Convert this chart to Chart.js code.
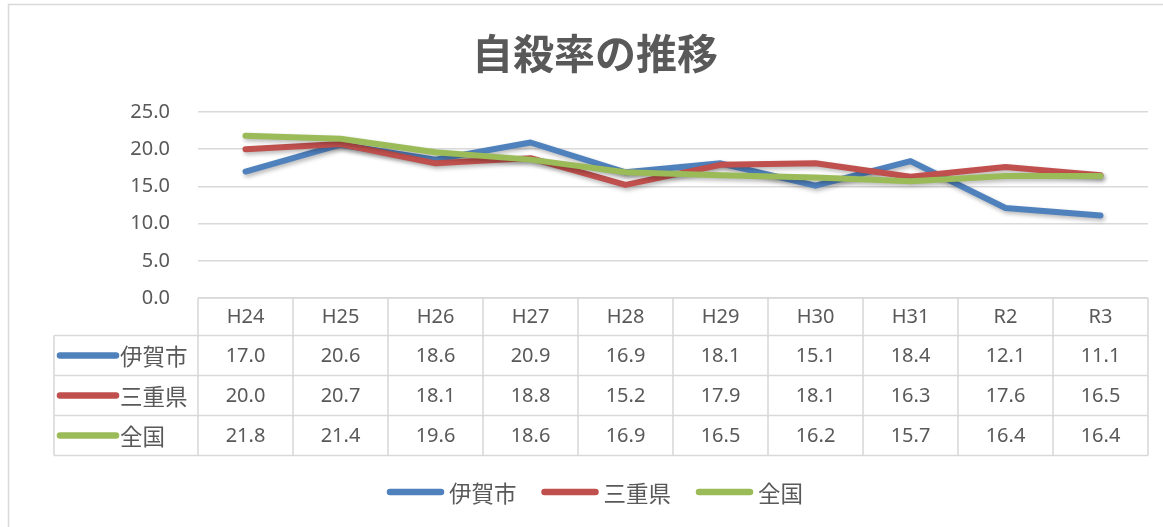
<!DOCTYPE html>
<html lang="ja">
<head>
<meta charset="utf-8">
<title>自殺率の推移</title>
<script src="https://cdn.jsdelivr.net/npm/chart.js@4.4.1/dist/chart.umd.min.js"></script>
<style>
  html, body { margin: 0; padding: 0; background: #ffffff; }
  #wrap { width: 1163px; height: 527px; position: relative; }
</style>
</head>
<body>
<div id="wrap"><canvas id="chart" width="1163" height="527"></canvas></div>
<script>
// Suicide rate (per 100,000) by fiscal year
const chartTitle = '自殺率の推移';
const categories = ['H24', 'H25', 'H26', 'H27', 'H28', 'H29', 'H30', 'H31', 'R2', 'R3'];
const seriesNames = ['伊賀市', '三重県', '全国'];
const igaValues = [17.0, 20.6, 18.6, 20.9, 16.9, 18.1, 15.1, 18.4, 12.1, 11.1];
const mieValues = [20.0, 20.7, 18.1, 18.8, 15.2, 17.9, 18.1, 16.3, 17.6, 16.5];
const zenkokuValues = [21.8, 21.4, 19.6, 18.6, 16.9, 16.5, 16.2, 15.7, 16.4, 16.4];
const yMin = 0;
const yMax = 25;
const yStep = 5;

const seriesColors = ['#4F81BD', '#C0504D', '#9BBB59'];
const textColor = '#595959';
const gridColor = '#D9D9D9';
const latinFont = '"Noto Sans", "Noto Sans CJK JP", sans-serif';
const cjkFont = '"Noto Sans CJK JP", "Noto Sans", sans-serif';

// Soft drop shadow under each series line
const lineShadow = {
  id: 'lineShadow',
  beforeDatasetDraw(chart) {
    const ctx = chart.ctx;
    ctx.save();
    ctx.shadowColor = 'rgba(0, 0, 0, 0.28)';
    ctx.shadowBlur = 4;
    ctx.shadowOffsetX = 1.5;
    ctx.shadowOffsetY = 2.5;
  },
  afterDatasetDraw(chart) {
    chart.ctx.restore();
  }
};

function drawKeyLine(ctx, x1, x2, y, color) {
  ctx.save();
  ctx.strokeStyle = color;
  ctx.lineWidth = 6.5;
  ctx.lineCap = 'round';
  ctx.beginPath();
  ctx.moveTo(x1, y);
  ctx.lineTo(x2, y);
  ctx.stroke();
  ctx.restore();
}

// Frame, title, data table under the plot and the bottom legend
const decorations = {
  id: 'decorations',
  beforeDraw(chart) {
    const ctx = chart.ctx;
    ctx.save();
    ctx.fillStyle = '#ffffff';
    ctx.fillRect(0, 0, chart.width, chart.height);
    ctx.strokeStyle = gridColor;
    ctx.lineWidth = 1.5;
    ctx.beginPath();
    ctx.moveTo(8.5, chart.height);
    ctx.lineTo(8.5, 4.5);
    ctx.lineTo(chart.width, 4.5);
    ctx.stroke();
    ctx.restore();
  },
  afterDraw(chart) {
    const ctx = chart.ctx;
    const area = chart.chartArea;
    const xs = chart.scales.x;
    const centerX = 595;

    // Title
    ctx.save();
    ctx.fillStyle = textColor;
    ctx.font = 'bold 41px ' + cjkFont;
    ctx.textAlign = 'center';
    ctx.textBaseline = 'middle';
    ctx.fillText(chartTitle, centerX, 53);
    ctx.restore();

    // Data table
    const n = categories.length;
    const colW = (area.right - area.left) / n;
    const headTop = area.bottom;
    const headH = 37.5;
    const rowH = 40;
    const keyLeft = 54;
    const rowsTop = headTop + headH;
    const tableBottom = rowsTop + rowH * seriesNames.length;
    const data = chart.data.datasets;

    ctx.save();
    ctx.strokeStyle = gridColor;
    ctx.lineWidth = 1.6;
    ctx.beginPath();
    // horizontal lines
    ctx.moveTo(area.left, headTop); ctx.lineTo(area.right, headTop);
    for (let r = 0; r <= seriesNames.length; r++) {
      const y = rowsTop + r * rowH;
      ctx.moveTo(keyLeft, y); ctx.lineTo(area.right, y);
    }
    // vertical lines
    ctx.moveTo(keyLeft, rowsTop); ctx.lineTo(keyLeft, tableBottom);
    for (let c = 0; c <= n; c++) {
      const x = (c < n ? xs.getPixelForValue(c) - colW / 2 : xs.getPixelForValue(n - 1) + colW / 2);
      ctx.moveTo(x, headTop); ctx.lineTo(x, tableBottom);
    }
    ctx.stroke();

    ctx.fillStyle = textColor;
    ctx.textAlign = 'center';
    ctx.textBaseline = 'middle';
    ctx.font = '20px ' + latinFont;
    categories.forEach((cat, i) => {
      ctx.fillText(cat, xs.getPixelForValue(i), headTop + headH / 2 + 1);
    });
    data.forEach((ds, r) => {
      const cy = rowsTop + r * rowH + rowH / 2 + 1;
      ds.data.forEach((v, i) => {
        ctx.font = '20px ' + latinFont;
        ctx.textAlign = 'center';
        ctx.fillText(v.toFixed(1), xs.getPixelForValue(i), cy);
      });
      drawKeyLine(ctx, 60, 116, cy - 1, ds.borderColor);
      ctx.font = '22.5px ' + cjkFont;
      ctx.textAlign = 'left';
      ctx.fillText(ds.label, 120, cy);
    });
    ctx.restore();

    // Bottom legend
    ctx.save();
    ctx.font = '22.5px ' + cjkFont;
    ctx.textBaseline = 'middle';
    ctx.textAlign = 'left';
    const keyLen = 57;
    const keyGap = 5;
    const itemGap = 25;
    const widths = data.map(ds => keyLen + keyGap + ctx.measureText(ds.label).width);
    const total = widths.reduce((a, b) => a + b, 0) + itemGap * (widths.length - 1);
    let x = centerX - total / 2;
    const ly = 492;
    data.forEach((ds, i) => {
      drawKeyLine(ctx, x + 3, x + keyLen - 3, ly, ds.borderColor);
      ctx.fillStyle = textColor;
      ctx.fillText(ds.label, x + keyLen + keyGap, ly + 1);
      x += widths[i] + itemGap;
    });
    ctx.restore();
  }
};

const seriesValues = [igaValues, mieValues, zenkokuValues];

new Chart(document.getElementById('chart'), {
  type: 'line',
  data: {
    labels: categories,
    datasets: seriesNames.map((name, i) => ({
      label: name,
      data: seriesValues[i],
      borderColor: seriesColors[i],
      backgroundColor: seriesColors[i],
      borderWidth: 6,
      borderCapStyle: 'round',
      borderJoinStyle: 'round',
      pointRadius: 0,
      pointHoverRadius: 0,
      tension: 0,
      fill: false,
      order: seriesNames.length - i
    }))
  },
  options: {
    responsive: false,
    animation: false,
    events: [],
    layout: { padding: { left: 8, right: 15, top: 112, bottom: 229 } },
    plugins: {
      legend: { display: false },
      title: { display: false },
      tooltip: { enabled: false }
    },
    scales: {
      x: {
        type: 'category',
        offset: true,
        display: false
      },
      y: {
        min: yMin,
        max: yMax,
        afterFit(scale) { scale.width = 190; },
        ticks: {
          stepSize: yStep,
          padding: 28,
          color: textColor,
          font: { family: latinFont, size: 20 },
          callback: v => Number(v).toFixed(1)
        },
        grid: {
          color: gridColor,
          lineWidth: 1.5,
          drawTicks: false
        },
        border: { display: false }
      }
    }
  },
  plugins: [lineShadow, decorations]
});
</script>
</body>
</html>
